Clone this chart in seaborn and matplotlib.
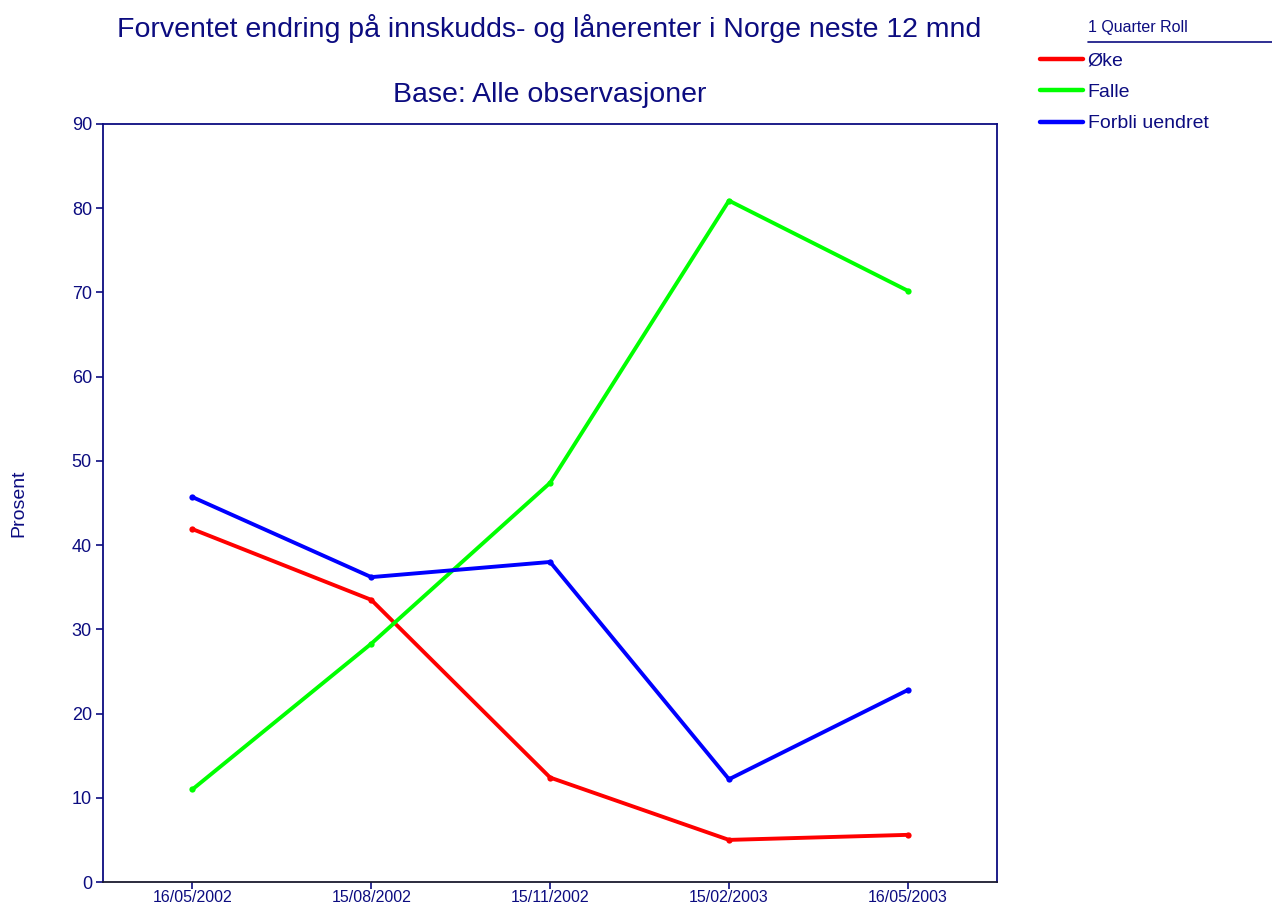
import pandas as pd
import matplotlib.pyplot as plt
import seaborn as sns
from matplotlib.lines import Line2D

# data
datoer = ['16/05/2002', '15/08/2002', '15/11/2002', '15/02/2003', '16/05/2003']
oke = [41.9, 33.5, 12.4, 5.0, 5.6]
falle = [11.0, 28.3, 47.4, 80.9, 70.2]
forbli = [45.7, 36.2, 38.0, 12.2, 22.8]
serier = ['Øke', 'Falle', 'Forbli uendret']
farger = ['#ff0000', '#00ff00', '#0000ff']

navy = '#0c0c80'

df = pd.DataFrame({'dato': datoer * 3,
                   'verdi': oke + falle + forbli,
                   'serie': [s for s in serier for _ in datoer]})

sns.set_style('white')
plt.rcParams['font.family'] = ['Liberation Sans', 'DejaVu Sans']

fig = plt.figure(figsize=(12.72, 9.05), dpi=100)
ax = fig.add_axes([0.081, 0.0254, 0.703, 0.8376])

sns.lineplot(data=df, x='dato', y='verdi', hue='serie', hue_order=serier,
             palette=farger, linewidth=2.8, marker='o', markersize=4.5,
             markeredgewidth=0, ax=ax, legend=False, sort=False)

ax.set_xlim(-0.5, 4.5)
ax.set_ylim(0, 90)
ax.set_yticks(range(0, 91, 10))
ax.set_xlabel('')
ax.set_ylabel('Prosent', color=navy, fontsize=14)
ax.yaxis.set_label_coords(-0.085, 0.5)
ax.tick_params(axis='y', colors=navy, labelsize=13, length=5, width=1.2, left=True, pad=3)
ax.tick_params(axis='x', colors=navy, labelsize=11.5, length=5, width=1.2, bottom=True, pad=1)
for sp in ax.spines.values():
    sp.set_color(navy)
    sp.set_linewidth(1.3)
ax.spines['bottom'].set_color('#1a1a2e')

fig.text(0.432, 0.969, 'Forventet endring på innskudds- og lånerenter i Norge neste 12 mnd',
         ha='center', va='center', color=navy, fontsize=20.5)
fig.text(0.432, 0.895, 'Base: Alle observasjoner',
         ha='center', va='center', color=navy, fontsize=20.5)

# legend
handles = [Line2D([], [], color=c, linewidth=3.2) for c in farger]
leg = fig.legend(handles, serier, loc='upper left', bbox_to_anchor=(0.8176, 0.9426),
                 frameon=False, fontsize=14, handlelength=2.2, handletextpad=0.26,
                 labelspacing=0.71, borderaxespad=0, borderpad=0)
for t in leg.get_texts():
    t.set_color(navy)
fig.text(0.8553, 0.970, '1 Quarter Roll', ha='left', va='center', color=navy, fontsize=11.5)
fig.add_artist(Line2D([0.8553, 1.0], [0.9536, 0.9536], color=navy, linewidth=1.2,
                      transform=fig.transFigure))

fig.savefig('out.png', dpi=100)
